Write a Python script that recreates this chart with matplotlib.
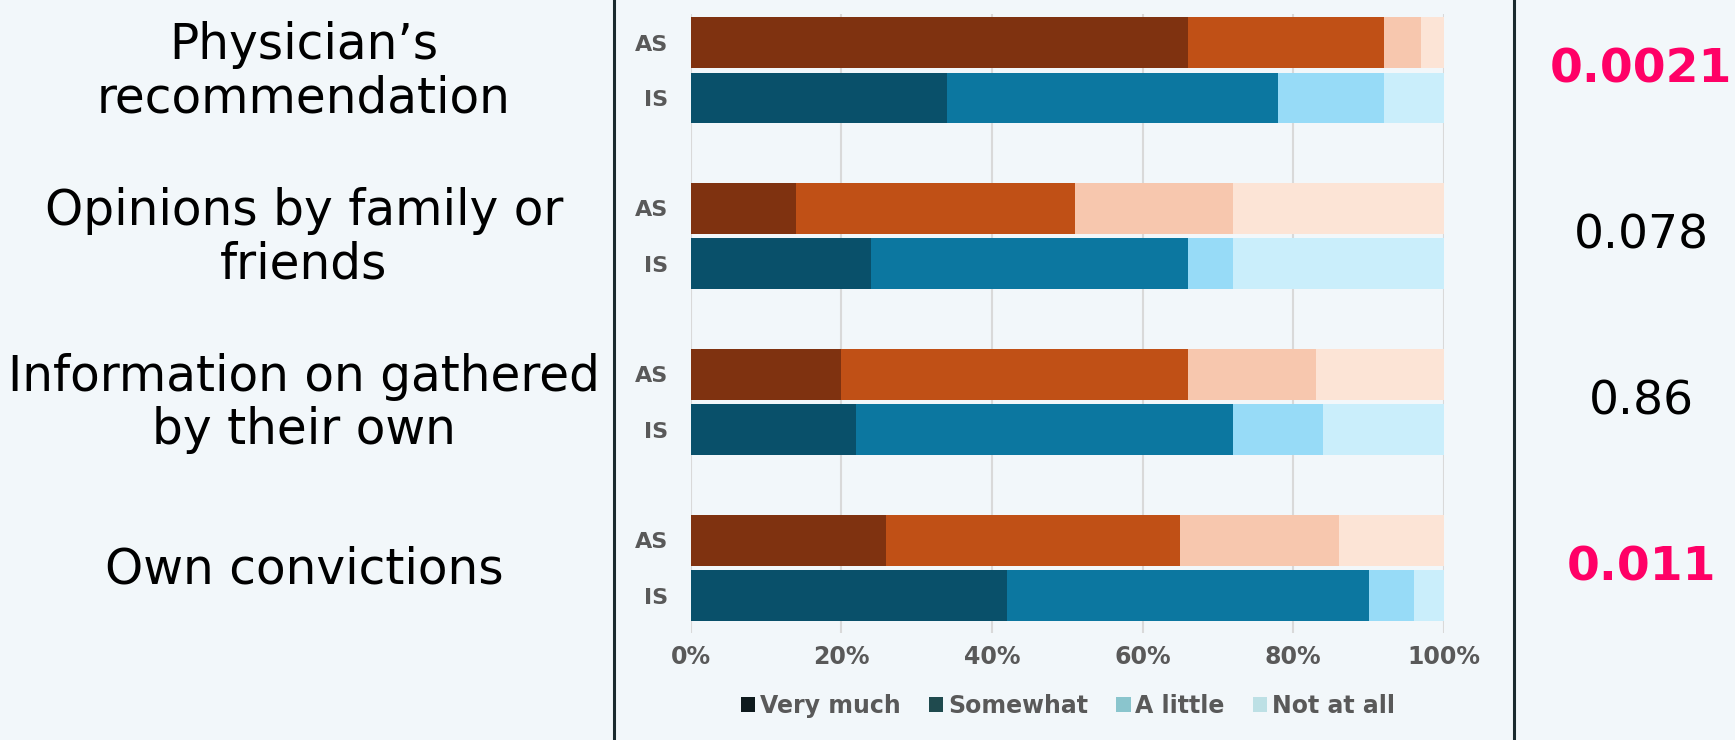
import matplotlib
matplotlib.use("Agg")
import matplotlib.pyplot as plt
from matplotlib.patches import Patch
from matplotlib.lines import Line2D
import matplotlib.transforms as mtransforms
import numpy as np

# ---- data ----
categories = ["Physician’s\nrecommendation", "Opinions by family or\nfriends",
              "Information on gathered\nby their own", "Own convictions"]
levels = ["Very much", "Somewhat", "A little", "Not at all"]
groups = ["AS", "IS"]
as_very = [66, 14, 20, 26]
as_some = [26, 37, 46, 39]
as_little = [5, 21, 17, 21]
as_not = [3, 28, 17, 14]
is_very = [34, 24, 22, 42]
is_some = [44, 42, 50, 48]
is_little = [14, 6, 12, 6]
is_not = [8, 28, 16, 4]
p_values = ["0.0021", "0.078", "0.86", "0.011"]
significant = [True, False, False, True]
xticks = [0, 20, 40, 60, 80, 100]

# ---- style ----
bg = "#f2f7fa"
as_colors = ["#7f3210", "#c05016", "#f7c7ae", "#fce4d6"]
is_colors = ["#09506a", "#0c77a0", "#97dbf7", "#caeefb"]
legend_colors = ["#0e1a1d", "#1f4a4e", "#8ac5cd", "#bde0e5"]
gray = "#595959"

W, H = 1735, 740
fig = plt.figure(figsize=(W / 100, H / 100), dpi=100, facecolor=bg)
left, right, top, bottom = 690.5, 1444, 14.4, 633
ax = fig.add_axes([left / W, 1 - bottom / H, (right - left) / W, (bottom - top) / H])
ax.set_facecolor(bg)

n = len(categories)
centers = np.arange(n)
off, h = 0.167, 0.307
as_data = [as_very, as_some, as_little, as_not]
is_data = [is_very, is_some, is_little, is_not]

for data, cols, sign in [(as_data, as_colors, -1), (is_data, is_colors, 1)]:
    cum = np.zeros(n)
    for vals, c in zip(data, cols):
        vals = np.array(vals, dtype=float)
        ax.barh(centers + sign * off, vals, left=cum, height=h, color=c, zorder=3)
        cum += vals

ax.set_xlim(0, 100)
ax.set_ylim(n - 1 + 0.393, -0.337)
ax.set_xticks(xticks)
ax.set_xticklabels([f"{t}%" for t in xticks], fontweight="bold", color=gray,
                   fontsize=17)
yt = []
ytl = []
for c in centers:
    yt += [c - off, c + off]
    ytl += groups
ax.set_yticks(yt)
ax.set_yticklabels(ytl, fontweight="bold", color=gray, fontsize=16)
ax.tick_params(axis="both", length=0)
ax.tick_params(axis="x", pad=9)
ax.tick_params(axis="y", pad=16)
for s in ax.spines.values():
    s.set_visible(False)
ax.grid(axis="x", color="#d9d9d9", linewidth=1.5, zorder=0)
ax.set_axisbelow(True)

# category labels and p-values
trans = mtransforms.blended_transform_factory(fig.transFigure, ax.transData)
for c, lab, p, sig in zip(centers, categories, p_values, significant):
    fig.text(304 / W, c + 0.01, lab, transform=trans, ha="center", va="center",
             fontsize=35, color="black", linespacing=1.14)
    fig.text(1641 / W, c, p, transform=trans, ha="center", va="center",
             fontsize=34, color="#ff0066" if sig else "black",
             fontweight="bold" if sig else "normal")

# vertical separator lines
for xp in [614, 1514]:
    fig.add_artist(Line2D([xp / W, xp / W], [0, 1], transform=fig.transFigure,
                          color="#1a2a2e", linewidth=2.2))

# legend
handles = [Patch(facecolor=c, edgecolor="none") for c in legend_colors]
fig.legend(handles, levels, loc="center", bbox_to_anchor=(1068 / W, 1 - 706 / H),
           ncol=4, frameon=False, handlelength=0.6, handleheight=0.6,
           handletextpad=0.2, columnspacing=1.2,
           prop={"weight": "bold", "size": 17},
           labelcolor=gray)

fig.savefig("out.png", dpi=100, facecolor=bg)
